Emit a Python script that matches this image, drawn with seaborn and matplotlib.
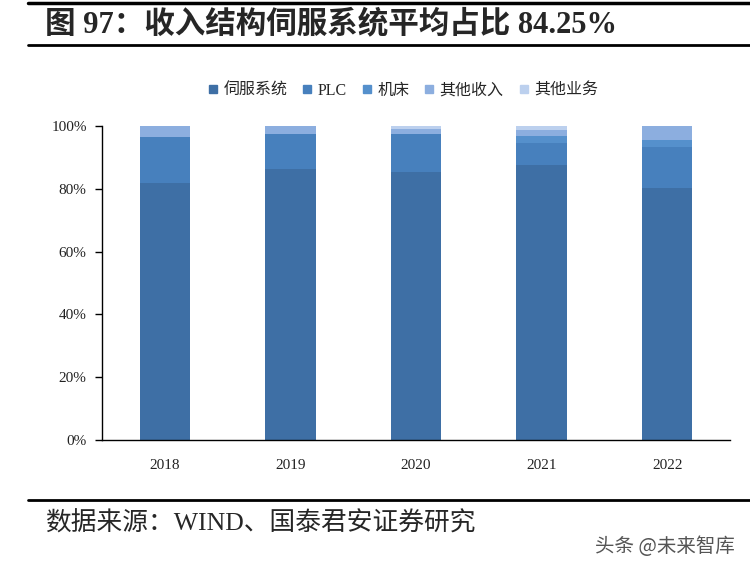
import matplotlib
matplotlib.use("Agg")
import matplotlib.pyplot as plt
from matplotlib.lines import Line2D
import seaborn as sns
import pandas as pd
import numpy as np

years = ["2018", "2019", "2020", "2021", "2022"]
series_names = ["伺服系统", "PLC", "机床", "其他收入", "其他业务"]
servo = [81.8, 86.3, 85.5, 87.7, 80.3]
plc = [14.7, 11.2, 12.0, 6.9, 12.9]
machine = [0.0, 0.0, 0.0, 2.1, 2.4]
other_income = [3.5, 2.5, 1.5, 2.0, 4.4]
other_business = [0.0, 0.0, 1.0, 1.3, 0.0]
ytick_labels = ["0%", "20%", "40%", "60%", "80%", "100%"]

colors = ["#3E6FA5", "#4780BD", "#5590CC", "#8CAEDF", "#BCD0EE"]

sns.set_theme(style="white")
plt.rcParams["font.family"] = ["Liberation Serif", "Noto Sans CJK SC", "DejaVu Sans"]

df = pd.DataFrame({
    "year": years,
    series_names[0]: servo,
    series_names[1]: plc,
    series_names[2]: machine,
    series_names[3]: other_income,
    series_names[4]: other_business,
})
vals = df[series_names].values / 100.0
cum = np.cumsum(vals, axis=1)

fig = plt.figure(figsize=(7.5, 5.71), dpi=100)
ax = fig.add_axes([102 / 750, 1 - 440 / 571, 628 / 750, 314 / 571])

for i in range(len(series_names) - 1, -1, -1):
    d = pd.DataFrame({"year": years, "v": cum[:, i]})
    sns.barplot(data=d, x="year", y="v", color=colors[i], width=0.4,
                saturation=1, ax=ax, linewidth=0, edgecolor="none")

ax.set_xlim(-0.5, 4.5)
ax.set_ylim(0, 1)
ax.set_yticks([0, 0.2, 0.4, 0.6, 0.8, 1.0])
ax.set_yticklabels(ytick_labels, fontsize=11, color="#222222",
                   family=["Liberation Serif"])
ax.set_xticks(range(len(years)))
ax.set_xticklabels(years, fontsize=11, color="#222222", family=["Liberation Serif"])
ax.set_xlabel("")
ax.set_ylabel("")
for s in ["top", "right"]:
    ax.spines[s].set_visible(False)
for s in ["left", "bottom"]:
    ax.spines[s].set_color("black")
    ax.spines[s].set_linewidth(1.0)
ax.tick_params(axis="y", which="major", left=True, length=5, width=1,
               color="black", pad=6, direction="out")
ax.tick_params(axis="x", which="major", bottom=False, pad=8)

handles = [Line2D([0], [0], marker="s", linestyle="none", markersize=6,
                  markerfacecolor=c, markeredgecolor=c) for c in colors]
fig.legend(handles, series_names, loc="center", bbox_to_anchor=(402 / 750, 1 - 91 / 571),
           ncol=5, frameon=False, handletextpad=0.2,
           columnspacing=0.8, handlelength=0.9,
           prop={"family": ["Liberation Serif", "Noto Sans CJK SC"], "size": 11.5})

# Title and rules
fig.add_artist(Line2D([28 / 750, 1.0], [1 - 2.5 / 571] * 2, color="black", lw=2.5,
                      transform=fig.transFigure))
fig.add_artist(Line2D([28 / 750, 1.0], [1 - 45 / 571] * 2, color="black", lw=2.0,
                      transform=fig.transFigure))
fig.text(45 / 750, 1 - 24 / 571, "图 97：收入结构伺服系统平均占比 84.25%",
         fontsize=22, fontweight="bold", va="center", ha="left",
         family=["Liberation Serif", "Noto Sans CJK SC"])

fig.add_artist(Line2D([28 / 750, 1.0], [1 - 500 / 571] * 2, color="black", lw=2.0,
                      transform=fig.transFigure))
fig.text(45 / 750, 1 - 523 / 571, "数据来源：WIND、国泰君安证券研究",
         fontsize=18.5, va="center", ha="left",
         family=["Liberation Serif", "Noto Sans CJK SC"])
fig.text(735 / 750, 1 - 546 / 571, "头条 @未来智库", fontsize=14, color="#555555",
         va="center", ha="right", family=["Noto Sans CJK SC", "DejaVu Sans"])

fig.savefig("out.png", dpi=100)
